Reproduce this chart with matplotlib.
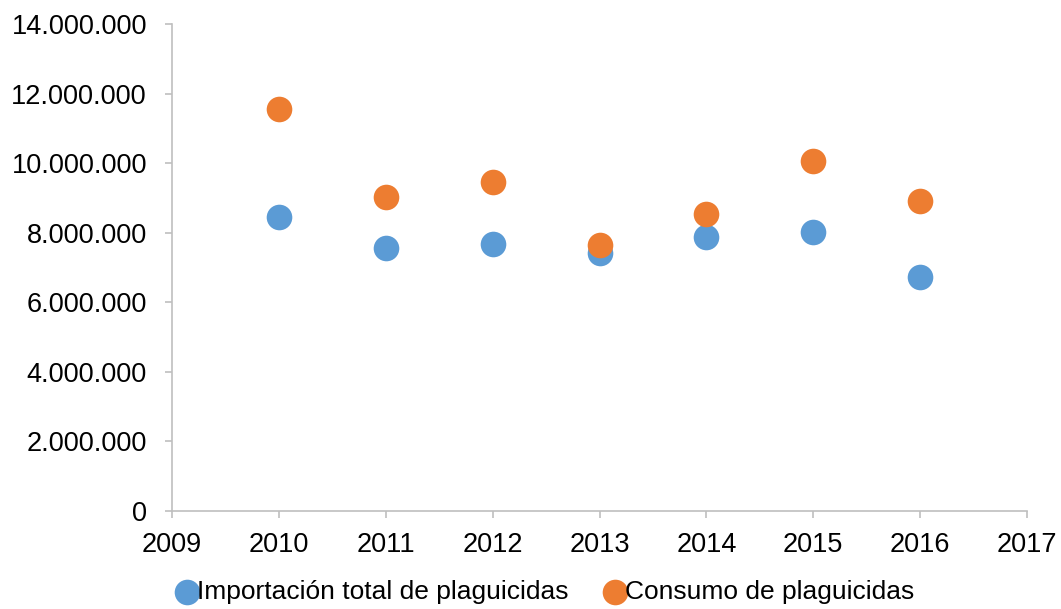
import matplotlib.pyplot as plt
from matplotlib.ticker import FuncFormatter

plt.rcParams['font.family'] = ['Liberation Sans', 'DejaVu Sans']

years = [2010, 2011, 2012, 2013, 2014, 2015, 2016]
importacion = [8450000, 7560000, 7670000, 7420000, 7880000, 8020000, 6730000]
consumo = [11560000, 9030000, 9460000, 7650000, 8540000, 10060000, 8910000]

fig = plt.figure(figsize=(10.61, 6.09), dpi=100, facecolor='white')
ax = fig.add_axes([0.1621, 0.1609, 0.8059, 0.7997])

ax.scatter(years, importacion, s=340, color='#5B9BD5', linewidths=0, zorder=3,
           label='Importación total de plaguicidas')
ax.scatter(years, consumo, s=340, color='#ED7D31', linewidths=0, zorder=3,
           label='Consumo de plaguicidas')

ax.set_xlim(2009, 2017)
ax.set_ylim(0, 14000000)
ax.set_xticks(range(2009, 2018))
ax.set_yticks(range(0, 14000001, 2000000))
ax.yaxis.set_major_formatter(FuncFormatter(lambda v, p: f'{int(v):,}'.replace(',', '.')))

for s in ['top', 'right']:
    ax.spines[s].set_visible(False)
for s in ['left', 'bottom']:
    ax.spines[s].set_color('#BFBFBF')
    ax.spines[s].set_linewidth(1.2)
ax.tick_params(axis='both', colors='#BFBFBF', length=5, width=1.2, labelsize=19.5,
               labelcolor='black')
ax.tick_params(axis='y', pad=13)
ax.tick_params(axis='x', pad=10)

leg = fig.legend(loc='lower center', bbox_to_anchor=(0.514, -0.03), ncol=2, frameon=False,
                 handlelength=0.8, handletextpad=0.0, columnspacing=1.35, markerscale=1.0,
                 prop={'size': 19})

fig.savefig('out.png', dpi=100, facecolor='white')
